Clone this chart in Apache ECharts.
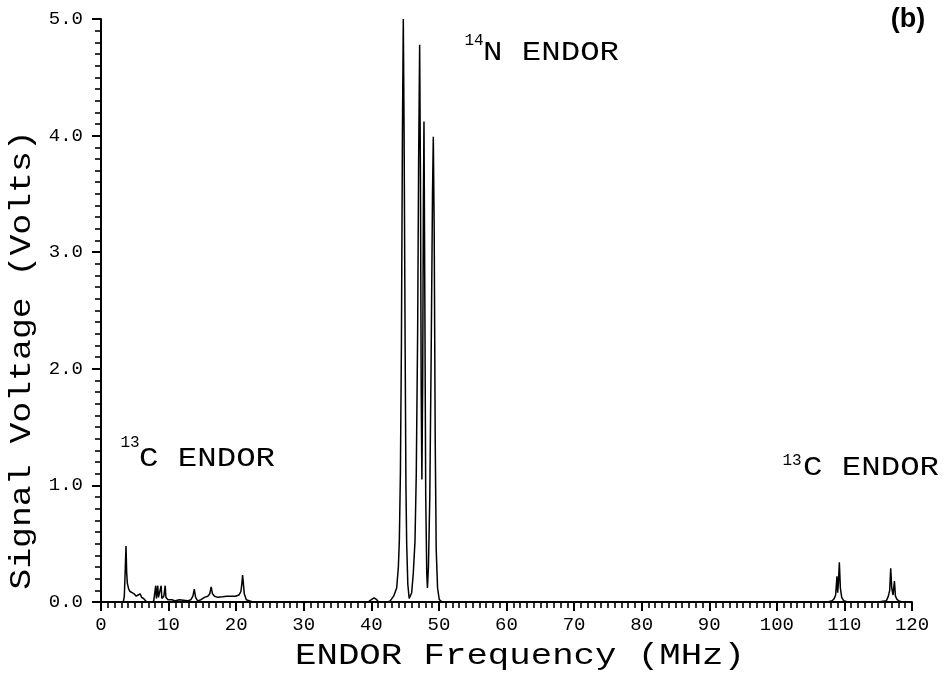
<!DOCTYPE html>
<html>
<head>
<meta charset="utf-8">
<script src="https://cdn.jsdelivr.net/npm/echarts@6/dist/echarts.min.js"></script>
<style>
  html, body { margin: 0; padding: 0; background: #fff; }
  #chart { width: 946px; height: 679px; }
</style>
</head>
<body>
<div id="chart"></div>
<script>
// ENDOR spectrum: frequency (MHz) and signal (V) sampled along the trace
const freqLow = [0.3, 3.3, 3.45, 3.6, 3.7, 3.8, 3.9, 4.1, 4.3, 4.6, 4.9, 5.2, 5.5, 5.8, 6.0, 6.3, 6.6, 6.9, 7.2, 7.5, 7.8, 8.0, 8.1, 8.2, 8.4, 8.5, 8.7, 8.9, 9.0, 9.3, 9.5, 9.6, 9.9, 10.5, 11.0, 11.6, 12.2, 12.8, 13.3, 13.6, 13.8, 14.0, 14.3, 14.8, 15.3, 15.8, 16.1, 16.3, 16.5, 16.8, 17.3, 18.0, 18.6, 19.3, 19.9, 20.4, 20.7, 20.85, 20.95, 21.05, 21.2, 21.5, 22.0, 22.5, 23.0, 23.5, 24.0, 25.0, 30.0, 35.0];
const voltLow = [0.0, 0.0, 0.05, 0.3, 0.48, 0.25, 0.16, 0.11, 0.09, 0.08, 0.07, 0.05, 0.06, 0.07, 0.04, 0.03, 0.01, -0.01, -0.02, -0.01, 0.01, 0.02, 0.14, 0.03, 0.14, 0.04, 0.03, 0.14, 0.03, 0.05, 0.14, 0.04, 0.02, 0.02, 0.01, 0.02, 0.015, 0.01, 0.02, 0.05, 0.11, 0.04, 0.01, 0.02, 0.04, 0.05, 0.07, 0.13, 0.07, 0.05, 0.04, 0.045, 0.05, 0.05, 0.05, 0.06, 0.09, 0.16, 0.23, 0.17, 0.07, 0.02, 0.01, 0.0, -0.005, -0.01, 0.0, 0.0, 0.0, 0.0];

const freqN14 = [38.0, 39.5, 40.0, 40.4, 40.8, 41.2, 41.6, 42.0, 42.4, 42.8, 43.3, 43.75, 44.0, 44.14, 44.3, 44.45, 44.6, 44.73, 44.85, 45.0, 45.12, 45.23, 45.4, 45.6, 45.97, 46.2, 46.46, 46.65, 46.85, 47.0, 47.15, 47.27, 47.38, 47.48, 47.6, 47.7, 47.79, 47.9, 48.05, 48.2, 48.3, 48.45, 48.65, 48.85, 49.05, 49.17, 49.3, 49.45, 49.6, 49.8, 50.05, 50.5];
const voltN14 = [0.0, 0.0, 0.02, 0.035, 0.02, -0.01, -0.02, 0.0, 0.0, 0.01, 0.05, 0.12, 0.3, 0.52, 1.1, 2.2, 4.0, 5.0, 4.0, 2.2, 1.0, 0.5, 0.15, 0.03, 0.08, 0.24, 0.52, 1.1, 2.3, 3.8, 4.78, 3.6, 1.8, 1.05, 1.9, 3.4, 4.12, 2.8, 0.9, 0.25, 0.12, 0.3, 0.9, 2.1, 3.5, 3.99, 3.2, 1.4, 0.45, 0.12, 0.02, 0.0];

const freqHigh = [60.0, 80.0, 100.0, 107.5, 108.2, 108.5, 108.7, 108.9, 109.0, 109.1, 109.25, 109.4, 109.6, 109.9, 110.5, 115.0, 116.2, 116.5, 116.7, 116.85, 117.0, 117.2, 117.4, 117.55, 117.8, 118.1, 118.5];
const voltHigh = [0.0, 0.0, 0.0, 0.0, 0.01, 0.03, 0.06, 0.22, 0.08, 0.15, 0.34, 0.12, 0.04, 0.01, 0.0, 0.0, 0.01, 0.05, 0.1, 0.29, 0.12, 0.06, 0.18, 0.05, 0.02, 0.01, 0.0];

// axis ranges and tick steps
const xTicks = { min: 0, max: 120, step: 10, minorPerStep: 10 };
const yTicks = { min: 0, max: 5, step: 1, minorPerStep: 10 };

const freqAll = freqLow.concat(freqN14, freqHigh);
const voltAll = voltLow.concat(voltN14, voltHigh);
const trace = freqAll.map((f, i) => [f, voltAll[i]]);

const MONO = '"Liberation Mono", "DejaVu Sans Mono", monospace';
const ink = '#000000';

const chart = echarts.init(document.getElementById('chart'));

function label(text, x, y, size, sx) {
  return {
    type: 'text', x: x, y: y, scaleX: sx || 1, silent: true,
    style: { text: text, font: size + 'px ' + MONO, fill: ink, align: 'center', verticalAlign: 'middle' }
  };
}

function axis(t, margin, fmt) {
  return {
    type: 'value', min: t.min, max: t.max, interval: t.step,
    axisLine: { show: true, lineStyle: { color: ink, width: 2 } },
    axisTick: { show: true, length: 9, lineStyle: { color: ink, width: 2 } },
    minorTick: { show: true, splitNumber: t.minorPerStep, length: 6, lineStyle: { color: ink, width: 1.6 } },
    splitLine: { show: true, lineStyle: { color: 'rgba(0,0,0,0)' } },
    minorSplitLine: { show: false },
    axisLabel: { color: ink, fontFamily: MONO, fontSize: 19, margin: margin, formatter: fmt }
  };
}

chart.setOption({
  animation: false,
  grid: { left: 101, right: 34, top: 19, bottom: 77 },
  xAxis: axis(xTicks, 13, v => String(v)),
  yAxis: axis(yTicks, 18, v => v.toFixed(1)),
  series: [{
    type: 'line',
    data: trace,
    showSymbol: false,
    symbol: 'none',
    lineStyle: { color: ink, width: 1.5 }
  }],
  graphic: [
    // axis titles
    label('ENDOR Frequency (MHz)', 520, 656, 30, 1.19),
    Object.assign(label('Signal Voltage (Volts)', 22, 360, 29, 1.2), { rotation: Math.PI / 2 }),
    // peak group annotations
    label('14', 474, 41, 16),
    label('N ENDOR', 551, 53, 27, 1.2),
    label('13', 130, 443, 16),
    label('C ENDOR', 207, 459, 27, 1.2),
    label('13', 792, 461, 16),
    label('C ENDOR', 871, 468, 27, 1.2),
    {
      type: 'text', x: 908, y: 20, silent: true,
      style: { text: '(b)', font: 'bold 27px "Liberation Sans", Arial, sans-serif', fill: ink, align: 'center', verticalAlign: 'middle' }
    }
  ]
});
</script>
</body>
</html>
